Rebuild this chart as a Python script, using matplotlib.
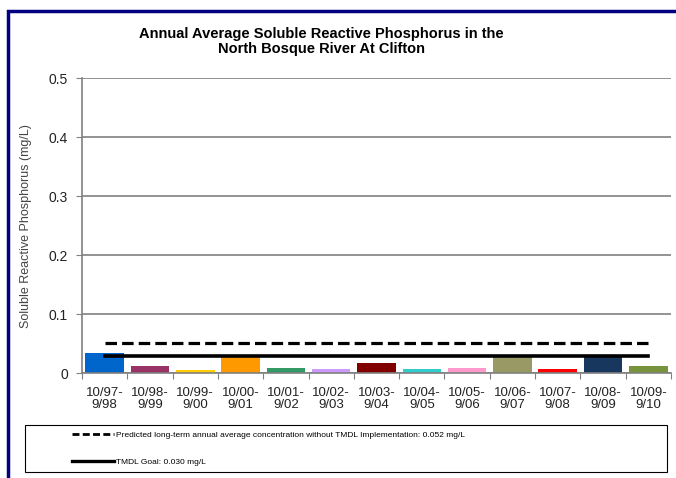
import matplotlib.pyplot as plt
from matplotlib.patches import Rectangle
from matplotlib.lines import Line2D

plt.rcParams['font.family'] = ['Liberation Sans', 'DejaVu Sans']

periods = ['10/97-\n9/98', '10/98-\n9/99', '10/99-\n9/00', '10/00-\n9/01',
           '10/01-\n9/02', '10/02-\n9/03', '10/03-\n9/04', '10/04-\n9/05',
           '10/05-\n9/06', '10/06-\n9/07', '10/07-\n9/08', '10/08-\n9/09',
           '10/09-\n9/10']
srp = [0.035, 0.013, 0.006, 0.028, 0.009, 0.007, 0.017, 0.008, 0.009,
       0.028, 0.007, 0.029, 0.013]
bar_colors = ['#0066CC', '#993366', '#FFCC00', '#FF9900', '#339966', '#CC99FF',
              '#800000', '#33CCCC', '#FF99CC', '#999966', '#FF0000', '#17375E',
              '#77933C']
predicted = 0.052
tmdl_goal = 0.030
yticks = [0, 0.1, 0.2, 0.3, 0.4, 0.5]
ytick_labels = ['0', '0.1', '0.2', '0.3', '0.4', '0.5']

W, H = 676, 478
fig = plt.figure(figsize=(W / 100, H / 100), dpi=100)

# navy frame, open at right and bottom
fig.patches.append(Rectangle((8 / W, -0.1), 1.1, 1 - 11 / H + 0.1,
                             transform=fig.transFigure, fill=False,
                             edgecolor='#000080', linewidth=2.5))

ax = fig.add_axes([82 / W, 1 - 373.3 / H, (671 - 82) / W, (373.3 - 78.3) / H])
x = list(range(len(periods)))
ax.bar(x, srp, width=0.85, color=bar_colors, zorder=2)
ax.plot(x, [predicted] * len(x), color='black', lw=2.3, linestyle=(0, (3.6, 1.6)),
        dash_capstyle='butt', zorder=3)
ax.plot(x, [tmdl_goal] * len(x), color='black', lw=2.6, zorder=3)

ax.set_xlim(-0.5, len(periods) - 0.5)
ax.set_ylim(0, 0.5)
ax.set_yticks(yticks)
ax.set_yticklabels(ytick_labels, fontsize=10, color='#222222')
ax.yaxis.grid(True, color='#808080', lw=1.2, zorder=0)
ax.set_axisbelow(True)
ax.set_xticks([i - 0.5 for i in range(len(periods) + 1)], minor=False)
ax.set_xticklabels([''] * (len(periods) + 1))
ax.set_xticks(x, minor=True)
ax.set_xticklabels(periods, minor=True, fontsize=9.5, color='#222222',
                   linespacing=1.0)
ax.tick_params(axis='x', which='minor', length=0, pad=10)
ax.tick_params(axis='x', which='major', length=4, color='#808080', direction='out')
ax.tick_params(axis='y', length=4, color='#808080', pad=6)
for s in ['top', 'right']:
    ax.spines[s].set_visible(False)
for s in ['left', 'bottom']:
    ax.spines[s].set_color('#808080')
    ax.spines[s].set_linewidth(1.2)
ax.set_ylabel('Soluble Reactive Phosphorus (mg/L)', fontsize=9, color='#444444',
              labelpad=12)

fig.text(321 / W, 1 - 41.5 / H,
         'Annual Average Soluble Reactive Phosphorus in the\nNorth Bosque River At Clifton',
         ha='center', va='center', fontsize=10.5, fontweight='bold', linespacing=1.1)

# legend box below the chart
fig.patches.append(Rectangle((25 / W, 1 - 472 / H), (667 - 25) / W, (472 - 425) / H,
                             transform=fig.transFigure, fill=False,
                             edgecolor='black', linewidth=0.8))
handles = [Line2D([], [], color='black', lw=2.0, linestyle=(0, (2.5, 1.2))),
           Line2D([], [], color='black', lw=2.4)]
labels = ['Predicted long-term annual average concentration without TMDL Implementation: 0.052 mg/L',
          'TMDL Goal: 0.030 mg/L']
fig.legend(handles, labels, loc='upper left', bbox_to_anchor=(69 / W, 1 - 428 / H),
           frameon=False, fontsize=6, handlelength=5.0, handletextpad=0.2,
           labelspacing=2.3, borderaxespad=0)

fig.savefig('out.png', dpi=100)
